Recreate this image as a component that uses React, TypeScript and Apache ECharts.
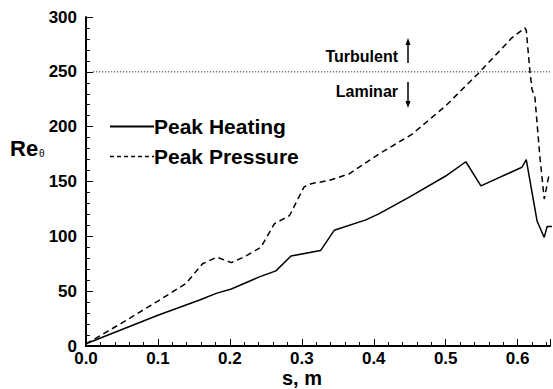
import React, { useEffect, useRef } from "react";
import * as echarts from "echarts";

const heatS = [0, 0.05, 0.1, 0.158, 0.181, 0.202, 0.241, 0.264, 0.285, 0.326, 0.345, 0.389, 0.407, 0.45, 0.5, 0.528, 0.549, 0.606, 0.612, 0.627, 0.637, 0.641, 0.648];
const heatRe = [2, 15, 28, 42, 48, 52, 63, 68.5, 82, 87, 105.5, 115, 120.5, 136, 155, 168, 146, 163, 170, 114, 99, 109, 109];

const pressS = [0, 0.05, 0.1, 0.139, 0.162, 0.182, 0.202, 0.222, 0.243, 0.262, 0.283, 0.303, 0.313, 0.338, 0.366, 0.407, 0.453, 0.5, 0.546, 0.592, 0.61, 0.612, 0.617, 0.62, 0.624, 0.631, 0.637, 0.643, 0.648];
const pressRe = [2, 21, 41, 57, 75, 81, 76, 82, 90, 111.5, 119, 145, 148, 151, 157, 175, 193, 219, 249, 281, 290, 288, 251, 234, 227, 172, 134, 154, 154];

const transitionRe = 250;
const xTicks = ["0.0", "0.1", "0.2", "0.3", "0.4", "0.5", "0.6"];
const yTicks = [0, 50, 100, 150, 200, 250, 300];

const FONT = "Liberation Sans, Arial, sans-serif";

export default function App() {
  const ref = useRef<HTMLDivElement>(null);
  useEffect(() => {
    if (!ref.current) return;
    const chart = echarts.init(ref.current, undefined, { renderer: "svg" });
    const xMax = 0.645;
    chart.setOption({
      animation: false,
      backgroundColor: "#fff",
      grid: { left: 86, right: 1, top: 17, bottom: 43 },
      legend: {
        data: [
          { name: "Peak Heating" },
          { name: "Peak Pressure", lineStyle: { type: [4, 3], width: 1.5 } },
        ],
        orient: "vertical",
        left: 104,
        top: 111,
        itemWidth: 44,
        itemHeight: 14,
        itemGap: 9,
        itemStyle: { color: "rgba(0,0,0,0)", borderWidth: 0, opacity: 0 },
        textStyle: { fontSize: 21, fontWeight: "bold", fontFamily: FONT, color: "#000", padding: [0, 0, 0, -5] },
      },
      xAxis: {
        type: "value",
        min: 0,
        max: xMax,
        interval: 0.1,
        splitLine: { show: false },
        axisLine: { lineStyle: { color: "#000", width: 2 } },
        axisTick: { inside: true, length: 7, lineStyle: { color: "#000", width: 1 } },
        minorTick: { show: true, splitNumber: 5, length: 4, lineStyle: { color: "#000", width: 1 } },
        axisLabel: {
          fontSize: 17,
          fontWeight: "bold",
          fontFamily: FONT,
          color: "#000",
          margin: 4,
          formatter: (v: number) => {
            const i = Math.round(v * 10);
            return Math.abs(v * 10 - i) < 1e-6 && i < xTicks.length ? xTicks[i] : "";
          },
        },
      },
      yAxis: {
        type: "value",
        min: yTicks[0],
        max: yTicks[yTicks.length - 1],
        interval: 50,
        splitLine: { show: false },
        axisLine: { show: true, lineStyle: { color: "#000", width: 2 } },
        axisTick: { show: true, inside: true, length: 7, lineStyle: { color: "#000", width: 1 } },
        minorTick: { show: true, splitNumber: 5, length: 4, lineStyle: { color: "#000", width: 1 } },
        axisLabel: { fontSize: 17, fontWeight: "bold", fontFamily: FONT, color: "#000", margin: 9 },
      },
      series: [
        {
          name: "Peak Heating",
          type: "line",
          symbol: "none",
          data: heatS.map((s, i) => [s, heatRe[i]]),
          lineStyle: { color: "#000", width: 1.5 },
          itemStyle: { color: "#000" },
        },
        {
          name: "Peak Pressure",
          type: "line",
          symbol: "none",
          data: pressS.map((s, i) => [s, pressRe[i]]),
          lineStyle: { color: "#000", width: 1.5, type: [6, 4] },
          itemStyle: { color: "#000" },
        },
        {
          name: "Transition",
          type: "line",
          symbol: "none",
          data: [
            [0.01, transitionRe],
            [xMax, transitionRe],
          ],
          lineStyle: { color: "#000", width: 1, type: [1, 2] },
        },
      ],
      graphic: [
        {
          type: "text",
          left: 10,
          top: 137,
          style: {
            text: "{a|Re}{b|θ}",
            rich: {
              a: { fontSize: 22, fontWeight: "bold", fontFamily: FONT, fill: "#000" },
              b: { fontSize: 10, fontFamily: FONT, fill: "#000", padding: [10, 0, 0, 1] },
            },
          },
        },
        {
          type: "text",
          left: 282,
          top: 368,
          style: { text: "s, m", fontSize: 20, fontWeight: "bold", fontFamily: FONT, fill: "#000" },
        },
        {
          type: "text",
          right: 155,
          top: 48,
          style: { text: "Turbulent", fontSize: 16, fontWeight: "bold", fontFamily: FONT, fill: "#000" },
        },
        {
          type: "text",
          right: 155,
          top: 83,
          style: { text: "Laminar", fontSize: 16, fontWeight: "bold", fontFamily: FONT, fill: "#000" },
        },
        { type: "line", shape: { x1: 408, y1: 43, x2: 408, y2: 63 }, style: { stroke: "#000", lineWidth: 1.5 } },
        { type: "polygon", shape: { points: [[405.5, 45], [410.5, 45], [408, 38]] }, style: { fill: "#000" } },
        { type: "line", shape: { x1: 408, y1: 82, x2: 408, y2: 103 }, style: { stroke: "#000", lineWidth: 1.5 } },
        { type: "polygon", shape: { points: [[405.5, 101], [410.5, 101], [408, 108]] }, style: { fill: "#000" } },
      ],
    });
    return () => chart.dispose();
  }, []);
  return <div ref={ref} style={{ position: "fixed", left: 0, top: 0, width: 553, height: 389 }} />;
}
